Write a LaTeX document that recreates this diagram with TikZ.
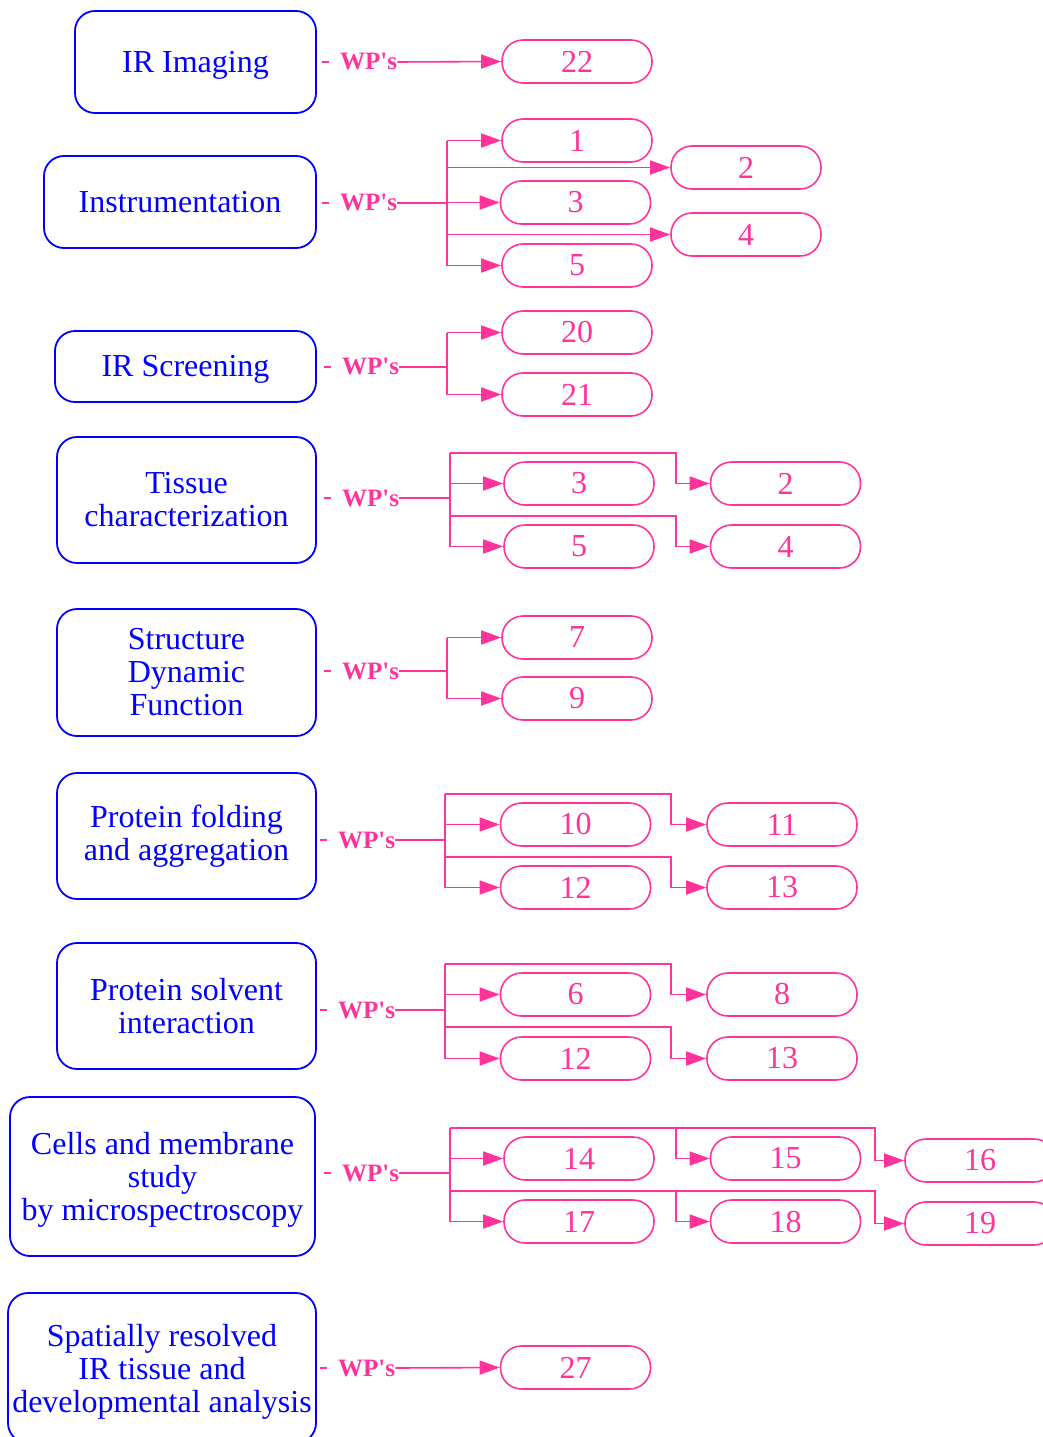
\documentclass[tikz,border=0pt]{standalone}
\usepackage{fontspec}
\setmainfont{Liberation Serif}
\usetikzlibrary{arrows.meta}
\definecolor{wppink}{RGB}{255,51,153}
\newcommand{\wptext}{WP\textquotesingle s}
\begin{document}
\begin{tikzpicture}[x=1pt,y=-1pt,
 bluebox/.style={draw=blue, line width=1.8pt, rounded corners=20pt, text=blue, align=center, font=\fontsize{32}{33}\selectfont, inner sep=0pt},
 oneline/.style={text height=27pt, text depth=7pt},
 wpbox/.style={draw=wppink, line width=1.6pt, rounded corners=21pt, text=wppink, font=\fontsize{32}{33}\selectfont, minimum width=150pt, minimum height=43pt, inner sep=0pt},
 wplabel/.style={text=wppink, font=\bfseries\fontsize{25}{25}\selectfont, inner sep=0pt, anchor=west},
 link/.style={draw=wppink, line width=1.6pt},
 arr/.style={link, -{Triangle[length=20pt,width=14pt]}},
]
\useasboundingbox (0,0) rectangle (1043,1437);

% ---------- blue topic boxes ----------
\node[bluebox, oneline, minimum width=241pt, minimum height=102pt] (A) at (195.5,62) {IR Imaging};
\node[bluebox, oneline, minimum width=272pt, minimum height=92pt] (B) at (180,202) {Instrumentation};
\node[bluebox, oneline, minimum width=261pt, minimum height=71pt] (C) at (185.5,366.5) {IR Screening};
\node[bluebox, minimum width=259pt, minimum height=126pt] (D) at (186.5,500) {Tissue\\characterization};
\node[bluebox, minimum width=259pt, minimum height=127pt] (E) at (186.5,672.5) {Structure\\Dynamic\\Function};
\node[bluebox, minimum width=259pt, minimum height=126pt] (F) at (186.5,836) {Protein folding\\and aggregation};
\node[bluebox, minimum width=259pt, minimum height=126pt] (G) at (186.5,1006) {Protein solvent\\interaction};
\node[bluebox, text depth=0pt, minimum width=305pt, minimum height=159pt] (H) at (162.5,1176.5) {Cells and membrane\\study\\by microspectroscopy};
\node[bluebox, text depth=0pt, minimum width=308pt, minimum height=150pt] (I) at (162,1368) {Spatially resolved\\IR tissue and\\developmental analysis};

% ---------- WP boxes ----------
\node[wpbox] (p22) at (577,61.5) {22};
\node[wpbox] (b1) at (577,140.5) {1};
\node[wpbox] (b2) at (746,167.5) {2};
\node[wpbox] (b3) at (575.5,202.5) {3};
\node[wpbox] (b4) at (746,234.5) {4};
\node[wpbox] (b5) at (577,265.5) {5};
\node[wpbox] (c20) at (577,332.5) {20};
\node[wpbox] (c21) at (577,394.5) {21};
\node[wpbox] (d3) at (579,483.5) {3};
\node[wpbox] (d2) at (785.5,483.5) {2};
\node[wpbox] (d5) at (579,546.5) {5};
\node[wpbox] (d4) at (785.5,546.5) {4};
\node[wpbox] (e7) at (577,637.5) {7};
\node[wpbox] (e9) at (577,698.5) {9};
\node[wpbox] (f10) at (575.5,824.5) {10};
\node[wpbox] (f11) at (782,824.5) {11};
\node[wpbox] (f12) at (575.5,887.5) {12};
\node[wpbox] (f13) at (782,887.5) {13};
\node[wpbox] (g6) at (575.5,994.5) {6};
\node[wpbox] (g8) at (782,994.5) {8};
\node[wpbox] (g12) at (575.5,1058.5) {12};
\node[wpbox] (g13) at (782,1058.5) {13};
\node[wpbox] (h14) at (579,1158.5) {14};
\node[wpbox] (h15) at (785.5,1158.5) {15};
\node[wpbox] (h16) at (980,1160.5) {16};
\node[wpbox] (h17) at (579,1221.5) {17};
\node[wpbox] (h18) at (785.5,1221.5) {18};
\node[wpbox] (h19) at (980,1223.5) {19};
\node[wpbox] (i27) at (575.5,1367.5) {27};

% ---------- WP's labels ----------
\node[wplabel] (LA) at (340,62) {\wptext};
\node[wplabel] (LB) at (340,203) {\wptext};
\node[wplabel] (LC) at (342,367) {\wptext};
\node[wplabel] (LD) at (342,498) {\wptext};
\node[wplabel] (LE) at (342,671) {\wptext};
\node[wplabel] (LF) at (338,840) {\wptext};
\node[wplabel] (LG) at (338,1010) {\wptext};
\node[wplabel] (LH) at (342,1173) {\wptext};
\node[wplabel] (LI) at (338,1368) {\wptext};

% short tails between box and label
\foreach \L in {LA,LB,LC,LD,LE,LF,LG,LH,LI}
  \draw[link] (\L.west) ++(-18,0) -- ++(7,0);

% ---------- junction coordinates ----------
\coordinate (JB) at (447,203);
\coordinate (JC) at (447,367);
\coordinate (JD) at (450,498);
\coordinate (JE) at (447,671);
\coordinate (JF) at (445,840);
\coordinate (JG) at (445,1010);
\coordinate (JH) at (450,1173);

% IR Imaging
\draw[arr] (LA.east) -- (p22.west);

% Instrumentation
\draw[link] (LB.east) -- (JB);
\draw[link] (JB |- b1.west) -- (JB |- b5.west);
\draw[arr] (JB |- b1.west) -- (b1.west);
\draw[arr] (JB |- b2.west) -- (b2.west);
\draw[arr] (JB |- b3.west) -- (b3.west);
\draw[arr] (JB |- b4.west) -- (b4.west);
\draw[arr] (JB |- b5.west) -- (b5.west);

% IR Screening
\draw[link] (LC.east) -- (JC);
\draw[link] (JC |- c20.west) -- (JC |- c21.west);
\draw[arr] (JC |- c20.west) -- (c20.west);
\draw[arr] (JC |- c21.west) -- (c21.west);

% Tissue characterization
\coordinate (TD1) at (450,453);
\coordinate (TD2) at (450,516);
\draw[link] (LD.east) -- (JD);
\draw[link] (TD1) -- (JD |- d5.west);
\draw[arr] (JD |- d3.west) -- (d3.west);
\draw[arr] (JD |- d5.west) -- (d5.west);
\draw[arr] (TD1) -- (676,453) |- (d2.west);
\draw[arr] (TD2) -- (676,516) |- (d4.west);

% Structure Dynamic Function
\draw[link] (LE.east) -- (JE);
\draw[link] (JE |- e7.west) -- (JE |- e9.west);
\draw[arr] (JE |- e7.west) -- (e7.west);
\draw[arr] (JE |- e9.west) -- (e9.west);

% Protein folding
\coordinate (TF1) at (445,794);
\coordinate (TF2) at (445,857);
\draw[link] (LF.east) -- (JF);
\draw[link] (TF1) -- (JF |- f12.west);
\draw[arr] (JF |- f10.west) -- (f10.west);
\draw[arr] (JF |- f12.west) -- (f12.west);
\draw[arr] (TF1) -- (671,794) |- (f11.west);
\draw[arr] (TF2) -- (671,857) |- (f13.west);

% Protein solvent
\coordinate (TG1) at (445,964);
\coordinate (TG2) at (445,1027);
\draw[link] (LG.east) -- (JG);
\draw[link] (TG1) -- (JG |- g12.west);
\draw[arr] (JG |- g6.west) -- (g6.west);
\draw[arr] (JG |- g12.west) -- (g12.west);
\draw[arr] (TG1) -- (671,964) |- (g8.west);
\draw[arr] (TG2) -- (671,1027) |- (g13.west);

% Cells and membrane
\coordinate (TH1) at (450,1128);
\coordinate (TH2) at (450,1191);
\draw[link] (LH.east) -- (JH);
\draw[link] (TH1) -- (JH |- h17.west);
\draw[arr] (JH |- h14.west) -- (h14.west);
\draw[arr] (JH |- h17.west) -- (h17.west);
\draw[arr] (TH1) -- (676,1128) |- (h15.west);
\draw[arr] (676,1128) -- (875,1128) |- (h16.west);
\draw[arr] (TH2) -- (676,1191) |- (h18.west);
\draw[arr] (676,1191) -- (875,1191) |- (h19.west);

% Spatially resolved
\draw[arr] (LI.east) -- (i27.west);
\end{tikzpicture}
\end{document}
